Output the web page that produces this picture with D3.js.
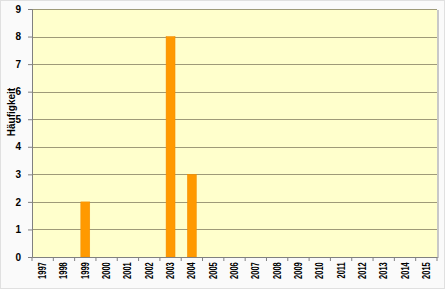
<!DOCTYPE html>
<html><head><meta charset="utf-8">
<script src="https://cdn.jsdelivr.net/npm/d3@7"></script>
<style>body{margin:0;background:#fff}svg{display:block}</style>
</head><body>
<script>
const years = ["1997","1998","1999","2000","2001","2002","2003","2004","2005","2006","2007","2008","2009","2010","2011","2012","2013","2014","2015"];
const counts = [0,0,2,0,0,0,8,3,0,0,0,0,0,0,0,0,0,0,0];
const yTicks = [0,1,2,3,4,5,6,7,8,9];

const W=445,H=289;
const m={l:32,r:8,t:9,b:32};
const svg=d3.select("body").append("svg").attr("width",W).attr("height",H);
svg.append("rect").attr("x",0.5).attr("y",0.5).attr("width",W-1).attr("height",H-1).attr("fill","#fafafa").attr("stroke","#e0e0e0");
const x=d3.scaleBand().domain(years).range([m.l,W-m.r]).paddingInner(0.58).paddingOuter(0.29);
const xb=d3.scaleBand().domain(years).range([m.l,W-m.r]);
const y=d3.scaleLinear().domain([0,9]).range([H-m.b,m.t]);
// plot bg
svg.append("rect").attr("x",m.l+2).attr("y",m.t+1).attr("width",W-m.r-m.l).attr("height",H-m.b-m.t).attr("fill","#c8c8c8");
svg.append("rect").attr("x",m.l).attr("y",m.t).attr("width",W-m.r-m.l).attr("height",H-m.b-m.t).attr("fill","#ffffcc");
// grid
svg.append("g").selectAll("line").data(yTicks.filter(d=>d>0)).join("line")
 .attr("x1",m.l).attr("x2",W-m.r).attr("y1",d=>Math.round(y(d))+0.5).attr("y2",d=>Math.round(y(d))+0.5)
 .attr("stroke","#9e9a78").attr("stroke-width",1.2);
// bars
svg.append("g").selectAll("rect").data(years.map((k,i)=>({k,v:counts[i]})).filter(d=>d.v>0)).join("rect")
 .attr("x",d=>x(d.k)).attr("width",x.bandwidth()).attr("y",d=>y(d.v)).attr("height",d=>y(0)-y(d.v))
 .attr("fill","#ff9900").attr("stroke","#f08c00").attr("stroke-width",0.5);
// y axis
const ya=svg.append("g").attr("transform",`translate(${m.l},0)`).call(d3.axisLeft(y).tickValues(yTicks).tickSize(4).tickFormat(d3.format("d")));
ya.select(".domain").attr("stroke","#808080");
ya.selectAll(".tick line").attr("stroke","#808080");
ya.selectAll("text").attr("font-family","Liberation Sans, Arial, sans-serif").attr("font-weight","bold").attr("font-size",10).attr("fill","#000").attr("dx",-4);
// x axis
const xa=svg.append("g").attr("transform",`translate(0,${H-m.b})`).call(d3.axisBottom(xb).tickSize(0));
xa.select(".domain").attr("stroke","#808080");
xa.selectAll("text").attr("font-family","Liberation Sans, Arial, sans-serif").attr("font-weight","bold").attr("font-size",10).attr("fill","#000")
 .attr("transform","rotate(-90) scale(0.75,1)").attr("text-anchor","end").attr("x",-7).attr("y",0).attr("dy","0.35em");
svg.append("g").selectAll("line").data(years.concat(["end"])).join("line")
 .attr("x1",(d,i)=>m.l+i*xb.step()).attr("x2",(d,i)=>m.l+i*xb.step()).attr("y1",H-m.b).attr("y2",H-m.b+4).attr("stroke","#808080");
// y label
svg.append("text").attr("transform",`translate(15,112) rotate(-90)`).attr("text-anchor","middle")
 .attr("font-family","Liberation Sans, Arial, sans-serif").attr("font-weight","bold").attr("font-size",10).text("Häufigkeit");
</script>
</body></html>
